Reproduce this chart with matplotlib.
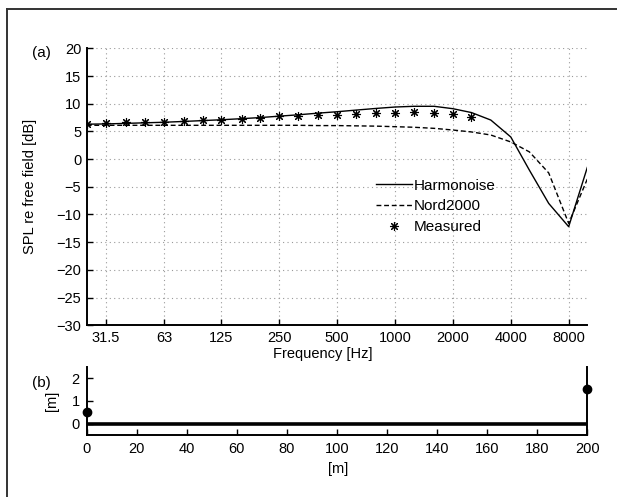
import numpy as np
import matplotlib
matplotlib.use("Agg")
from matplotlib import pyplot as plt
from matplotlib.lines import Line2D

# third-octave band centre frequencies [Hz]
freq = [25, 31.5, 40, 50, 63, 80, 100, 125, 160, 200, 250, 315, 400, 500,
        630, 800, 1000, 1250, 1600, 2000, 2500, 3150, 4000, 5000, 6300,
        8000, 10000]

harmonoise = [6.3, 6.35, 6.45, 6.55, 6.65, 6.8, 6.95, 7.1, 7.3, 7.5, 7.75,
              8.0, 8.3, 8.55, 8.85, 9.15, 9.4, 9.53, 9.53, 9.1, 8.4, 7.05,
              4.0, -2.0, -8.0, -12.2, -1.5]

nord2000 = [6.1, 6.1, 6.1, 6.1, 6.1, 6.1, 6.1, 6.1, 6.1, 6.1, 6.1, 6.1,
            6.05, 6.05, 6.0, 5.95, 5.85, 5.75, 5.55, 5.25, 4.9, 4.35, 3.1,
            1.3, -2.5, -11.6, -3.6]

freq_meas = [25, 31.5, 40, 50, 63, 80, 100, 125, 160, 200, 250, 315, 400,
             500, 630, 800, 1000, 1250, 1600, 2000, 2500]
measured = [6.4, 6.55, 6.65, 6.7, 6.75, 6.9, 7.0, 7.1, 7.3, 7.45, 7.7, 7.85,
            8.0, 8.0, 8.15, 8.25, 8.3, 8.45, 8.4, 8.1, 7.55]

oct_ticks = [31.5, 63, 125, 250, 500, 1000, 2000, 4000, 8000]
oct_labels = ["31.5", "63", "125", "250", "500", "1000", "2000", "4000", "8000"]

# geometry: source / receiver
dist = [0, 200]
ground = [0, 0]
src_x, src_h = 0, 0.5
rec_x, rec_h = 200, 1.5

plt.rcParams["font.family"] = ["Liberation Sans", "DejaVu Sans"]
plt.rcParams["font.size"] = 10.5

fig = plt.figure(figsize=(6.17, 4.97), dpi=100)

# partial frame around the figure (left and top only)
fig.add_artist(Line2D([0.0109, 0.0109], [0.0, 0.982], transform=fig.transFigure,
                      color="#333333", lw=1.4))
fig.add_artist(Line2D([0.0109, 1.0], [0.982, 0.982], transform=fig.transFigure,
                      color="#333333", lw=1.4))

# (a) spectra
ax = fig.add_axes([0.1405, 0.3455, 0.8114, 0.5573])
ax.plot(freq, harmonoise, color="k", lw=1.0, label="Harmonoise")
ax.plot(freq, nord2000, color="k", lw=1.0, ls=(0, (3.5, 2)), label="Nord2000")
ax.plot(freq_meas, measured, ls="none", marker=(8, 2, 0), ms=6.5, mew=0.8,
        color="k", label="Measured")
ax.set_xscale("log")
ax.set_xlim(25, 10000)
ax.set_ylim(-30, 20)
ax.set_xticks(oct_ticks)
ax.set_xticklabels(oct_labels)
ax.xaxis.set_minor_locator(matplotlib.ticker.NullLocator())
ax.set_yticks(np.arange(-30, 21, 5))
ax.grid(True, color="#9a9a9a", ls=(0, (1, 3)), lw=0.8)
ax.spines["top"].set_visible(False)
ax.spines["right"].set_visible(False)
ax.spines["left"].set_linewidth(1.4)
ax.spines["bottom"].set_linewidth(1.4)
ax.tick_params(direction="in", length=4, width=1.0, pad=4)
ax.set_xlabel("Frequency [Hz]")
ax.xaxis.set_label_coords(0.472, -0.077)
ax.set_ylabel("SPL re free field [dB]")
ax.yaxis.set_label_coords(-0.099, 0.5)
ax.legend(loc="upper left", bbox_to_anchor=(0.597, 0.656),
          bbox_transform=fig.transFigure, frameon=False, borderpad=0,
          handlelength=2.35, handletextpad=0.15, labelspacing=0.45,
          fontsize=11)

fig.text(0.052, 0.893, "(a)", fontsize=11, va="center")

# (b) geometry
bx = fig.add_axes([0.1405, 0.1247, 0.8114, 0.1374])
bx.plot(dist, ground, color="k", lw=2.6, solid_capstyle="butt")
bx.plot([src_x, rec_x], [src_h, rec_h], ls="none", marker="o", ms=6,
        color="k", clip_on=False, zorder=5)
bx.set_xlim(0, 200)
bx.set_ylim(-0.5, 2.5)
bx.set_xticks(np.arange(0, 201, 20))
bx.set_yticks([0, 1, 2])
bx.spines["top"].set_visible(False)
for s in ("left", "right", "bottom"):
    bx.spines[s].set_linewidth(1.4)
bx.tick_params(direction="in", length=4, width=1.0, pad=5)
bx.set_xlabel("[m]")
bx.xaxis.set_label_coords(0.502, -0.39)
bx.set_ylabel("[m]")
bx.yaxis.set_label_coords(-0.055, 0.5)

fig.text(0.052, 0.229, "(b)", fontsize=11, va="center")

fig.savefig("out.png", dpi=100)
